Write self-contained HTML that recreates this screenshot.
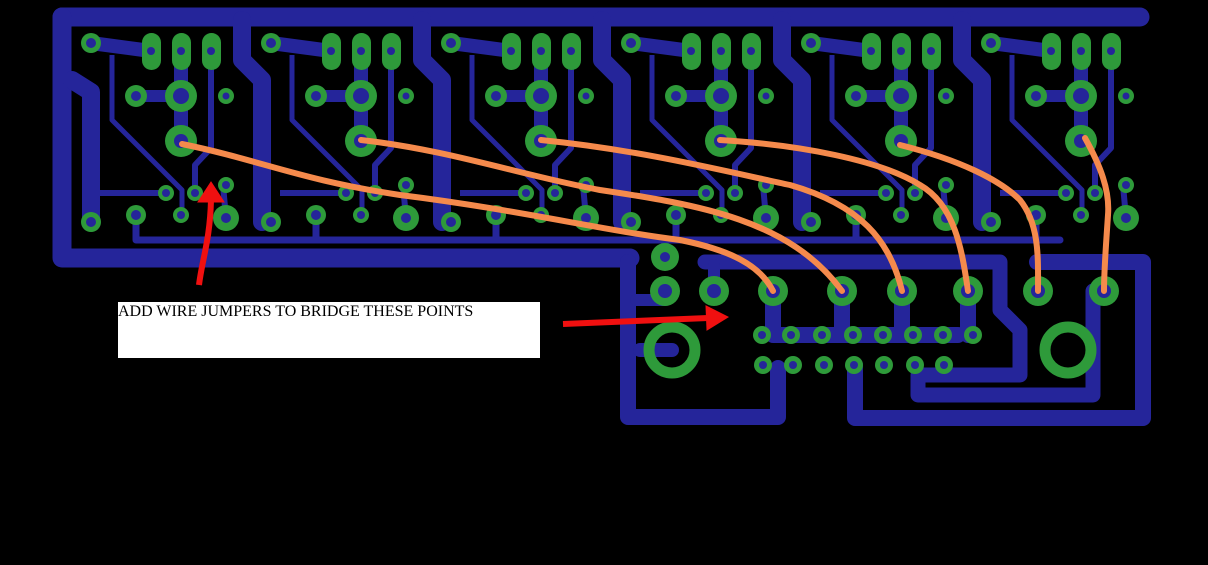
<!DOCTYPE html>
<html><head><meta charset="utf-8"><style>
html,body{margin:0;padding:0;background:#000;}
svg{display:block}
.lbl{position:absolute;left:118px;top:302px;width:422px;height:56px;background:#fff;font-family:"Liberation Serif",serif;font-size:16px;color:#000;line-height:20px;}
</style></head><body>
<div style="position:relative;width:1208px;height:565px;overflow:hidden;background:#000">
<svg width="1208" height="565" viewBox="0 0 1208 565">
<defs>
<g id="mod">
 <g stroke="#25259a" fill="none" stroke-linejoin="round">
  <path d="M91,43 L151,51" stroke-width="14"/>
  <path d="M181,51 L181,141" stroke-width="14"/>
  <path d="M136,96 L181,96" stroke-width="12"/>
  <path d="M112,55 L112,120 L182,190 L182,215" stroke-width="5"/>
  <path d="M100,193 L166,193" stroke-width="6"/>
  <path d="M211,51 L211,148 L195,165 L195,193" stroke-width="6"/>
  <path d="M223,185 L226,218" stroke-width="6"/>
  <path d="M136,215 L136,240" stroke-width="7"/>
 </g>
 <g fill="#2e9a3a">
  <rect x="142" y="33" width="19" height="37" rx="9.5"/>
  <rect x="172" y="33" width="19" height="37" rx="9.5"/>
  <rect x="202" y="33" width="19" height="37" rx="9.5"/>
  <circle cx="91" cy="43" r="10"/>
  <circle cx="181" cy="96" r="16"/>
  <circle cx="136" cy="96" r="11"/>
  <circle cx="226" cy="96" r="8"/>
  <circle cx="181" cy="141" r="16"/>
  <circle cx="166" cy="193" r="8"/>
  <circle cx="195" cy="193" r="8"/>
  <circle cx="226" cy="185" r="8"/>
  <circle cx="226" cy="218" r="13"/>
  <circle cx="136" cy="215" r="10"/>
  <circle cx="181" cy="215" r="8"/>
  <circle cx="91" cy="222" r="10"/>
 </g>
 <g fill="#25259a">
  <circle cx="151" cy="51" r="4"/><circle cx="181" cy="51" r="4"/><circle cx="211" cy="51" r="4"/>
  <circle cx="91" cy="43" r="5"/><circle cx="181" cy="96" r="8"/><circle cx="136" cy="96" r="5"/>
  <circle cx="226" cy="96" r="3.5"/><circle cx="181" cy="141" r="7"/><circle cx="166" cy="193" r="4"/>
  <circle cx="195" cy="193" r="4"/><circle cx="226" cy="185" r="4"/><circle cx="226" cy="218" r="5"/>
  <circle cx="136" cy="215" r="5"/><circle cx="181" cy="215" r="4"/><circle cx="91" cy="222" r="5"/>
 </g>
</g>
</defs>
<g stroke="#25259a" fill="none" stroke-linejoin="round" stroke-linecap="round">
 <path d="M62,17 L1140,17" stroke-width="19"/>
 <path d="M62,17 L62,258 L630,258" stroke-width="19"/>
 <path d="M72,80 L91,92 L91,222" stroke-width="18"/>
 <path d="M242,20 L242,60 L262,80 L262,222" stroke-width="18"/>
 <path d="M422,20 L422,60 L442,80 L442,222" stroke-width="18"/>
 <path d="M602,20 L602,60 L622,80 L622,222" stroke-width="18"/>
 <path d="M782,20 L782,60 L802,80 L802,222" stroke-width="18"/>
 <path d="M962,20 L962,60 L982,80 L982,222" stroke-width="18"/>
 <path d="M136,240 L1060,240" stroke-width="7"/>
 <path d="M628,262 L628,417 L778,417 L778,368" stroke-width="16"/>
 <path d="M705,262 L1000,262 L1000,310 L1020,330 L1020,375 L918,375 L918,395 L1093,395 L1093,291" stroke-width="15"/>
 <path d="M1037,262 L1143,262 L1143,418 L855,418 L855,365" stroke-width="16"/>
 <path d="M636,300 L665,300" stroke-width="12"/>
 <path d="M714,265 L714,291" stroke-width="12"/>
 <path d="M773,291 L773,335 L958,335 M842,291 L842,335 M902,291 L902,335 M968,291 L968,335" stroke-width="16"/>
 <path d="M640,350 L672,350" stroke-width="14"/>
</g>
<use href="#mod"/>
<use href="#mod" x="180"/>
<use href="#mod" x="360"/>
<use href="#mod" x="540"/>
<use href="#mod" x="720"/>
<use href="#mod" x="900"/>
<g fill="#2e9a3a">
 <circle cx="665" cy="257" r="14"/>
 <circle cx="665" cy="291" r="15"/><circle cx="714" cy="291" r="15"/><circle cx="773" cy="291" r="15"/><circle cx="842" cy="291" r="15"/>
 <circle cx="902" cy="291" r="15"/><circle cx="968" cy="291" r="15"/><circle cx="1038" cy="291" r="15"/><circle cx="1104" cy="291" r="15"/>
 <circle cx="762" cy="335" r="9"/><circle cx="791" cy="335" r="9"/><circle cx="822" cy="335" r="9"/><circle cx="853" cy="335" r="9"/>
 <circle cx="883" cy="335" r="9"/><circle cx="913" cy="335" r="9"/><circle cx="943" cy="335" r="9"/><circle cx="973" cy="335" r="9"/>
 <circle cx="763" cy="365" r="9"/><circle cx="793" cy="365" r="9"/><circle cx="824" cy="365" r="9"/><circle cx="854" cy="365" r="9"/>
 <circle cx="884" cy="365" r="9"/><circle cx="915" cy="365" r="9"/><circle cx="944" cy="365" r="9"/>
</g>
<g fill="#25259a">
 <circle cx="665" cy="257" r="5"/>
 <circle cx="665" cy="291" r="7"/><circle cx="714" cy="291" r="7"/><circle cx="773" cy="291" r="7"/><circle cx="842" cy="291" r="7"/>
 <circle cx="902" cy="291" r="7"/><circle cx="968" cy="291" r="7"/><circle cx="1038" cy="291" r="7"/><circle cx="1104" cy="291" r="7"/>
 <circle cx="762" cy="335" r="4"/><circle cx="791" cy="335" r="4"/><circle cx="822" cy="335" r="4"/><circle cx="853" cy="335" r="4"/>
 <circle cx="883" cy="335" r="4"/><circle cx="913" cy="335" r="4"/><circle cx="943" cy="335" r="4"/><circle cx="973" cy="335" r="4"/>
 <circle cx="763" cy="365" r="4"/><circle cx="793" cy="365" r="4"/><circle cx="824" cy="365" r="4"/><circle cx="854" cy="365" r="4"/>
 <circle cx="884" cy="365" r="4"/><circle cx="915" cy="365" r="4"/><circle cx="944" cy="365" r="4"/>
</g>
<circle cx="672" cy="350" r="23" fill="none" stroke="#2e9a3a" stroke-width="11"/>
<circle cx="1068" cy="350" r="23" fill="none" stroke="#2e9a3a" stroke-width="11"/>
<g stroke="#f58a4c" stroke-width="6" fill="none" stroke-linecap="round">
 <path d="M182,144 C260,160 300,180 400,195 C520,210 600,230 680,240 C730,250 760,265 773,291"/>
 <path d="M361,140 C450,150 520,175 600,190 C700,205 790,220 842,291"/>
 <path d="M541,140 C640,150 720,170 790,185 C860,205 890,240 902,291"/>
 <path d="M720,140 C800,145 880,160 920,185 C955,205 962,250 968,291"/>
 <path d="M900,145 C960,160 1000,180 1020,200 C1040,225 1038,260 1038,291"/>
 <path d="M1085,138 C1100,165 1110,190 1108,215 C1106,245 1104,270 1104,291"/>
</g>
<g fill="#f01010" stroke="#f01010">
 <path d="M199,285 C202,260 210,240 211,200" stroke-width="6" fill="none"/>
 <path d="M198,202 L211,182 L224,202 Z"/>
 <path d="M563,324 L708,318" stroke-width="6" fill="none"/>
 <path d="M706,306 L728,317 L707,330 Z"/>
</g>
</svg>
<div class="lbl">ADD WIRE JUMPERS TO BRIDGE THESE POINTS</div>
</div>
</body></html>
